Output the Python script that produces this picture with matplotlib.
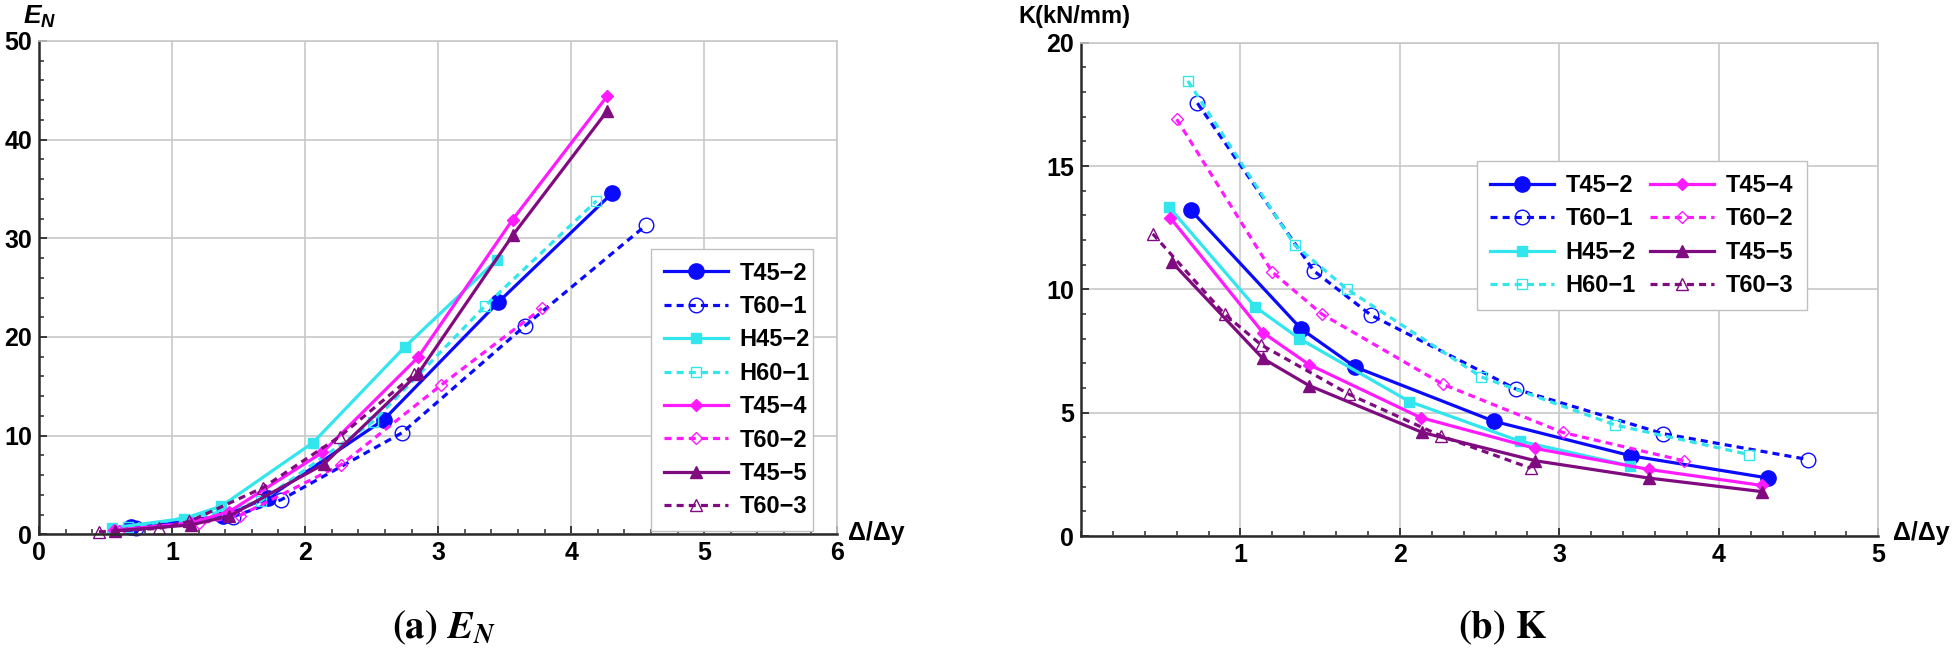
import matplotlib
matplotlib.use("Agg")
import matplotlib.pyplot as plt
from matplotlib.ticker import MultipleLocator

# ---------------- data ----------------
labels = ["T45\u22122", "T60\u22121", "H45\u22122", "H60\u22121",
          "T45\u22124", "T60\u22122", "T45\u22125", "T60\u22123"]

T45_2_x = [0.69, 1.38, 1.72, 2.59, 3.45, 4.31]
T45_2_E = [0.7, 1.85, 3.7, 11.6, 23.5, 34.6]
T45_2_K = [13.2, 8.4, 6.85, 4.65, 3.25, 2.35]

T60_1_x = [0.73, 1.46, 1.82, 2.73, 3.65, 4.56]
T60_1_E = [0.65, 1.8, 3.5, 10.3, 21.1, 31.3]
T60_1_K = [17.55, 10.75, 8.95, 5.95, 4.15, 3.1]

H45_2_x = [0.55, 1.09, 1.37, 2.06, 2.75, 3.44]
H45_2_E = [0.65, 1.6, 2.85, 9.3, 19.0, 27.8]
H45_2_K = [13.35, 9.3, 8.0, 5.45, 3.85, 2.85]

H60_1_x = [0.67, 1.34, 1.67, 2.51, 3.35, 4.19]
H60_1_E = [0.7, 2.2, 3.4, 11.4, 23.1, 33.8]
H60_1_K = [18.45, 11.8, 10.0, 6.45, 4.5, 3.3]

T45_4_x = [0.56, 1.14, 1.43, 2.13, 2.85, 3.56, 4.27]
T45_4_E = [0.4, 1.15, 2.3, 8.3, 17.95, 31.9, 44.4]
T45_4_K = [12.9, 8.25, 6.95, 4.8, 3.55, 2.7, 2.05]

T60_2_x = [0.6, 1.2, 1.51, 2.27, 3.02, 3.78]
T60_2_E = [0.35, 1.1, 1.9, 7.05, 15.1, 22.9]
T60_2_K = [16.9, 10.7, 9.0, 6.15, 4.2, 3.05]

T45_5_x = [0.57, 1.14, 1.43, 2.14, 2.85, 3.56, 4.27]
T45_5_E = [0.35, 0.95, 1.85, 7.1, 16.3, 30.3, 42.9]
T45_5_K = [11.1, 7.2, 6.1, 4.2, 3.05, 2.35, 1.8]

T60_3_x = [0.45, 0.9, 1.13, 1.68, 2.26, 2.82]
T60_3_E = [0.25, 0.6, 1.3, 4.7, 9.9, 16.2]
T60_3_K = [12.25, 9.0, 7.75, 5.75, 4.05, 2.75]

xs = [T45_2_x, T60_1_x, H45_2_x, H60_1_x, T45_4_x, T60_2_x, T45_5_x, T60_3_x]
Es = [T45_2_E, T60_1_E, H45_2_E, H60_1_E, T45_4_E, T60_2_E, T45_5_E, T60_3_E]
Ks = [T45_2_K, T60_1_K, H45_2_K, H60_1_K, T45_4_K, T60_2_K, T45_5_K, T60_3_K]

BLUE, CYAN, MAG, PUR = "#0a0aff", "#33e6ee", "#ff1aff", "#800a80"
DASH = (0, (2.2, 1.6))
styles = [
    dict(color=BLUE, ls="-", marker="o", ms=11, mfc=BLUE),
    dict(color=BLUE, ls=DASH, marker="o", ms=10.5, mfc="none", mew=1.0),
    dict(color=CYAN, ls="-", marker="s", ms=6.5, mfc=CYAN),
    dict(color=CYAN, ls=DASH, marker="s", ms=7, mfc="none", mew=1.0),
    dict(color=MAG, ls="-", marker="D", ms=6.5, mfc=MAG),
    dict(color=MAG, ls=DASH, marker="D", ms=6.5, mfc="none", mew=1.0),
    dict(color=PUR, ls="-", marker="^", ms=8, mfc=PUR),
    dict(color=PUR, ls=DASH, marker="^", ms=8, mfc="none", mew=1.0),
]

plt.rcParams["font.family"] = ["Liberation Sans", "DejaVu Sans"]
plt.rcParams["font.weight"] = "bold"
plt.rcParams["mathtext.fontset"] = "custom"
plt.rcParams["mathtext.it"] = "Liberation Sans:bold:italic"
plt.rcParams["mathtext.rm"] = "Liberation Sans:bold"
plt.rcParams["mathtext.bf"] = "Liberation Sans:bold"

W, H = 1959, 657
fig = plt.figure(figsize=(W / 100, H / 100), dpi=100)

axL = fig.add_axes([39 / W, 1 - 534.3 / H, (837.3 - 39) / W, (534.3 - 41) / H])
axR = fig.add_axes([1081 / W, 1 - 536 / H, (1878.3 - 1081) / W, (536 - 42.7) / H])

GRID = "#c8c8c8"
SPINE = "#2a2a2a"
TICKFS = 18


def style_axes(ax, xmax, ymax, xmajor, ymajor, yminor, xticks):
    ax.set_xlim(0, xmax)
    ax.set_ylim(0, ymax)
    ax.xaxis.set_major_locator(MultipleLocator(xmajor))
    ax.xaxis.set_minor_locator(MultipleLocator(0.2))
    ax.yaxis.set_major_locator(MultipleLocator(ymajor))
    ax.yaxis.set_minor_locator(MultipleLocator(yminor))
    ax.set_xticks(xticks)
    ax.grid(True, which="major", color=GRID, lw=1.2)
    ax.set_axisbelow(True)
    for s in ("left", "bottom"):
        ax.spines[s].set_color(SPINE)
        ax.spines[s].set_linewidth(1.8)
    for s in ("top", "right"):
        ax.spines[s].set_color(GRID)
        ax.spines[s].set_linewidth(1.2)
    ax.tick_params(which="major", direction="in", length=6, width=1.3,
                   color=SPINE, labelsize=TICKFS, pad=5)
    ax.tick_params(which="minor", direction="in", length=3.5, width=1.1, color=SPINE)
    ax.tick_params(top=False, right=False, which="both")
    for lab in ax.get_xticklabels() + ax.get_yticklabels():
        lab.set_fontweight("bold")


style_axes(axL, 6, 50, 1, 10, 2, [0, 1, 2, 3, 4, 5, 6])
style_axes(axR, 5, 20, 1, 5, 1, [1, 2, 3, 4, 5])
axR.set_yticks([0, 5, 10, 15, 20])

handles = []
for x, e, k, st, lab in zip(xs, Es, Ks, styles, labels):
    h, = axL.plot(x, e, lw=2.3, label=lab, clip_on=False, **st)
    axR.plot(x, k, lw=2.3, label=lab, clip_on=False, **st)
    handles.append(h)

legkw = dict(frameon=True, fancybox=False, edgecolor="#c0c0c0", framealpha=1,
             prop=dict(family="Liberation Sans", weight="bold", size=17),
             handlelength=2.7, handletextpad=0.5, borderpad=0.55, numpoints=1,
             borderaxespad=0)
legL = axL.legend(handles=handles, loc="lower left",
                  bbox_to_anchor=(0.767, 0.006, 0.202, 0.592), mode="expand",
                  labelspacing=0.44, **legkw)
legL.get_frame().set_linewidth(1.0)
legR = axR.legend(handles=handles, ncol=2, loc="upper left",
                  bbox_to_anchor=(0.497, 0.76), columnspacing=0.6,
                  labelspacing=0.44, **legkw)
legR.get_frame().set_linewidth(1.0)

# axis labels
fig.text(23 / W, 1 - 17 / H, r"$E_N$", fontsize=19, ha="left", va="center")
fig.text(1018 / W, 1 - 17 / H, "K(kN/mm)", fontsize=17, fontweight="bold",
         ha="left", va="center")
fig.text(848 / W, 1 - 533 / H, "\u0394/\u0394y", fontsize=18, fontweight="bold",
         ha="left", va="center")
fig.text(1893 / W, 1 - 533 / H, "\u0394/\u0394y", fontsize=18, fontweight="bold",
         ha="left", va="center")

# captions
fig.text(444 / W, 1 - 628 / H, r"$\mathbf{(a)}\ E_N$", fontsize=28,
         math_fontfamily="stix", ha="center", va="center")
fig.text(1503 / W, 1 - 628 / H, r"$\mathbf{(b)}\ \mathrm{K}$", fontsize=28,
         math_fontfamily="stix", ha="center", va="center")

fig.savefig("out.png", dpi=100)
